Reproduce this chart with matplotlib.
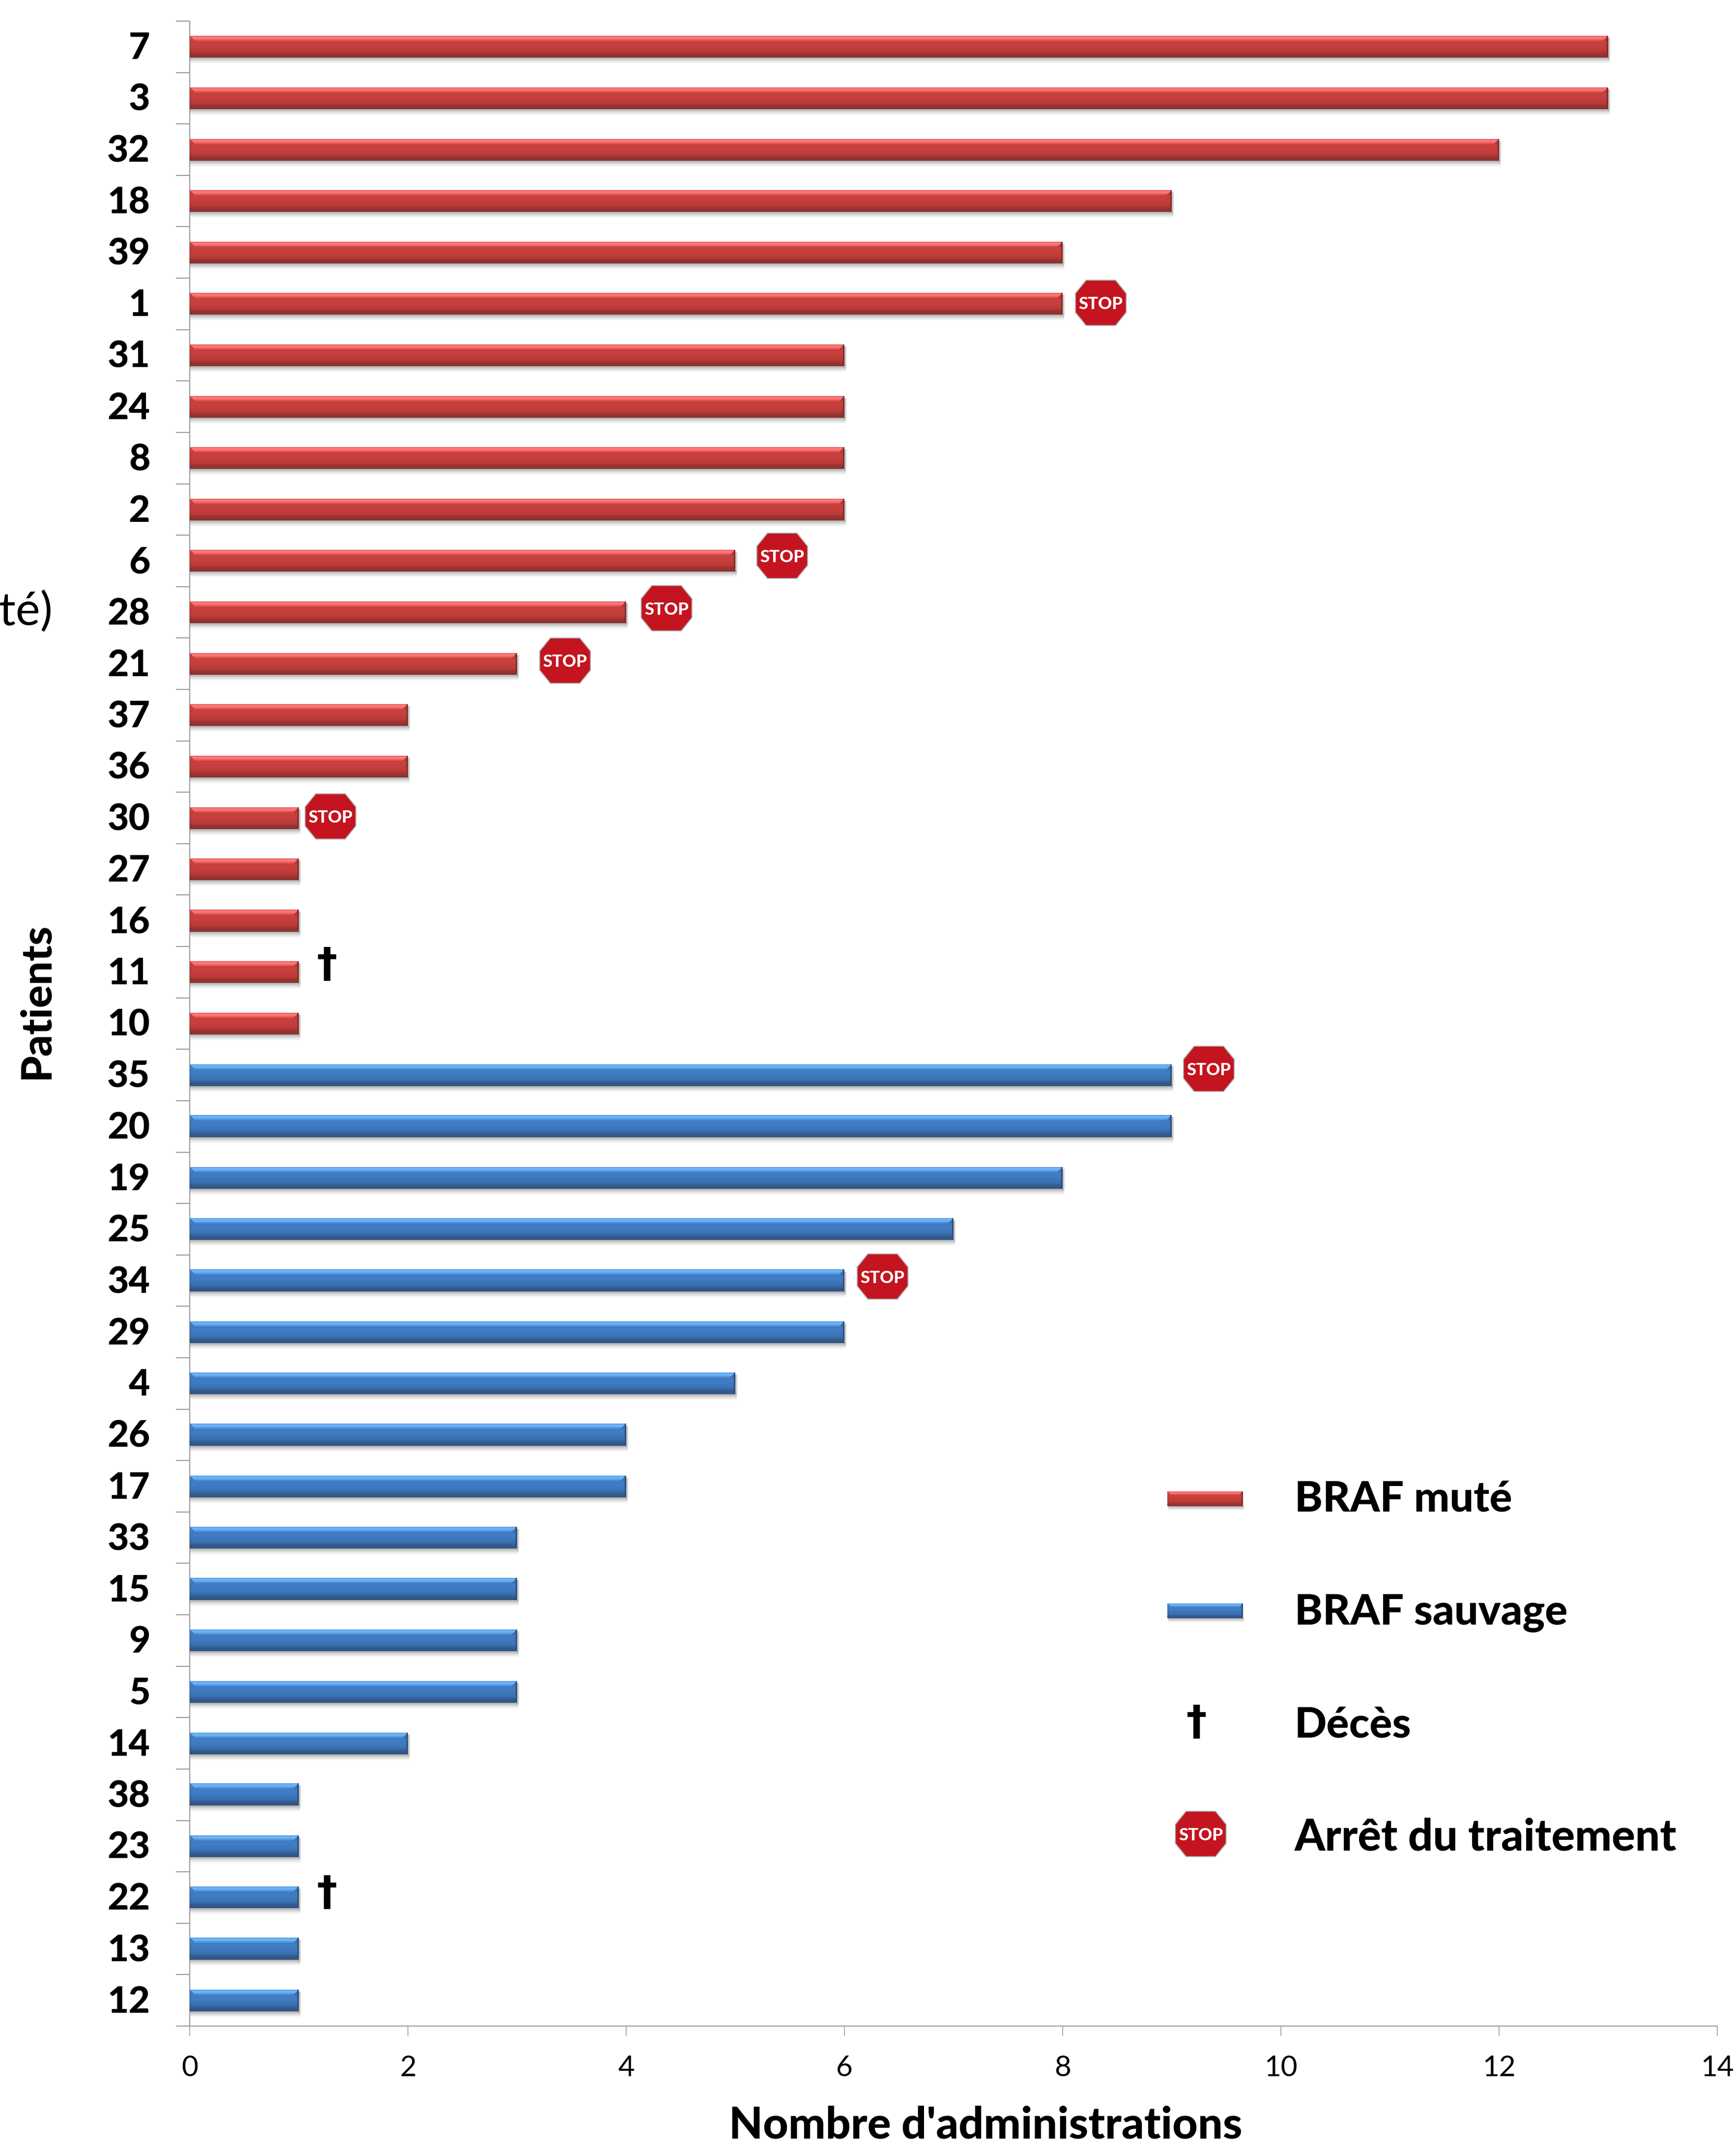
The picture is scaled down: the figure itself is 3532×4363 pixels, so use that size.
import numpy as np
import matplotlib
matplotlib.use("Agg")
import matplotlib.pyplot as plt
from matplotlib.patches import Polygon
from matplotlib.transforms import ScaledTranslation

# patients, top to bottom
patients_mute = ["7", "3", "32", "18", "39", "1", "31", "24", "8", "2", "6", "28", "21",
                 "37", "36", "30", "27", "16", "11", "10"]
values_mute = [13, 13, 12, 9, 8, 8, 6, 6, 6, 6, 5, 4, 3, 2, 2, 1, 1, 1, 1, 1]
patients_sauvage = ["35", "20", "19", "25", "34", "29", "4", "26", "17", "33", "15", "9",
                    "5", "14", "38", "23", "22", "13", "12"]
values_sauvage = [9, 9, 8, 7, 6, 6, 5, 4, 4, 3, 3, 3, 3, 2, 1, 1, 1, 1, 1]

# markers placed next to the bars (x in administrations, y in bar rows)
stop_x = [8.35, 5.43, 4.37, 3.44, 1.29, 9.34, 6.35]
stop_row = [5, 10, 11, 12, 15, 20, 24]
stop_dy = [-0.02, -0.1, -0.08, -0.06, -0.03, -0.12, -0.08]
death_x = [1.26, 1.26]
death_row = [18, 36]
death_dy = [-0.13, -0.08]

x_ticks = [0, 2, 4, 6, 8, 10, 12, 14]

RED = {"edge_top": "#c93a3c", "light": "#ff7677", "mid": "#c8403e", "low": "#b93a38",
       "dark": "#943330", "edge": "#6f2523"}
BLUE = {"edge_top": "#3d7fc8", "light": "#6db3f8", "mid": "#3f7cc4", "low": "#3a70b0",
        "dark": "#33598c", "edge": "#264369"}

W, H = 3532, 4363
LEFT, RIGHT, TOP, BOTTOM = 386, 3494, 43, 4123
GRAY = "#9c9c9c"

plt.rcParams["font.family"] = ["Lato", "DejaVu Sans"]


def rgb(c):
    return np.array(matplotlib.colors.to_rgb(c))


def bevel_image(style, w, h):
    # vertical shading of a bar, with the mitred corners at both ends
    stops = [0.0, 0.04, 0.12, 0.26, 0.45, 0.72, 0.86, 0.96, 1.0]
    names = ["edge_top", "light", "light", "mid", "mid", "low", "dark", "dark", "edge"]
    cols = np.array([rgb(style[n]) for n in names])
    t = (np.arange(h) + 0.5) / h
    img = np.zeros((h, w, 3))
    for k in range(3):
        img[:, :, k] = np.interp(t, stops, cols[:, k])[:, None]
    bev = int(h * 0.27)
    mid = rgb(style["mid"])
    for r in range(bev):
        img[r, :r + 1] = mid
        img[r, w - r - 1:] = mid * 0.92
    for c in range(3):
        img[bev:, c] = img[bev:, c] * 0.93
        img[:, w - c - 1] = rgb(style["dark"]) * (0.95 - 0.05 * c)
    return img


def shadow_image(h, strength=0.34):
    a = np.zeros((h, 1, 4))
    a[:, 0, 3] = strength * (1 - (np.arange(h) + 0.5) / h) ** 1.5
    return a


fig = plt.figure(figsize=(W / 100, H / 100), dpi=100, facecolor="white")
ax = fig.add_axes([LEFT / W, 1 - BOTTOM / H, (RIGHT - LEFT) / W, (BOTTOM - TOP) / H])

patients = patients_mute + patients_sauvage
values = values_mute + values_sauvage
styles = [RED] * len(values_mute) + [BLUE] * len(values_sauvage)
rows = np.arange(len(patients))

px_x = (RIGHT - LEFT) / 14
px_y = (BOTTOM - TOP) / len(patients)
bar_h = 44 / px_y

bars = ax.barh(rows, values, height=bar_h, color=[s["mid"] for s in styles], zorder=3)
for rect, style in zip(bars, styles):
    x1 = rect.get_width()
    y0 = rect.get_y()
    w_px = int(round(x1 * px_x))
    ax.imshow(bevel_image(style, w_px, 44), extent=(0, x1, y0 + bar_h, y0), aspect="auto",
              interpolation="bilinear", zorder=4)
    # soft shadow under the bar
    ax.imshow(shadow_image(14), extent=(1 / px_x, x1 + 3 / px_x, y0 + bar_h + 14 / px_y, y0 + bar_h),
              aspect="auto", interpolation="bilinear", zorder=2)
    ax.imshow(np.dstack([np.zeros((1, 6, 3)), 0.3 * np.linspace(1, 0, 6)[None, :]]),
              extent=(x1, x1 + 6 / px_x, y0 + bar_h, y0 + 4 / px_y),
              aspect="auto", interpolation="bilinear", zorder=2)

ax.set_xlim(0, 14)
ax.set_ylim(len(patients) - 0.5, -0.5)

ax.spines["top"].set_visible(False)
ax.spines["right"].set_visible(False)
ax.spines["left"].set_color(GRAY)
ax.spines["bottom"].set_color(GRAY)
ax.spines["left"].set_linewidth(1.6)
ax.spines["bottom"].set_linewidth(1.6)

ax.set_xticks(x_ticks)
ax.set_xticklabels([str(v) for v in x_ticks], fontsize=42)
ax.tick_params(axis="x", length=14.5, width=1.2, color=GRAY, pad=28)
ax.set_yticks(np.arange(len(patients) + 1) - 0.5)
ax.set_yticklabels([])
ax.tick_params(axis="y", which="major", length=20, width=1.6, color=GRAY)
ax.set_yticks(rows, minor=True)
ax.set_yticklabels(patients, minor=True, fontsize=54, fontweight=900)
ax.tick_params(axis="y", which="minor", length=0, pad=58)
nudge = ScaledTranslation(0, 3 / 100, fig.dpi_scale_trans)
for lab in ax.get_yticklabels(minor=True):
    lab.set_transform(lab.get_transform() + nudge)


def draw_stop(target, cx, cy, sx, sy, fs):
    # octagon of 103 x 92 px around the centre
    ox = np.array([-0.5, -0.29, 0.29, 0.5, 0.5, 0.29, -0.29, -0.5]) * sx
    oy = np.array([-0.21, -0.5, -0.5, -0.21, 0.21, 0.5, 0.5, 0.21]) * sy
    target.add_patch(Polygon(np.c_[cx + ox, cy + oy], closed=True, facecolor="#c4141f",
                             edgecolor="#a8a8a8", linewidth=1.4, zorder=6))
    target.text(cx, cy, "STOP", color="white", fontsize=fs, fontweight=900,
                ha="center", va="center_baseline", zorder=7)


for x, r, d in zip(stop_x, stop_row, stop_dy):
    draw_stop(ax, x, r + d, 103 / px_x, 92 / px_y, 25)
for x, r, d in zip(death_x, death_row, death_dy):
    ax.text(x, r + d, "†", fontsize=60, fontweight="bold", ha="center", va="center",
            family=["DejaVu Sans"], zorder=6)

# everything outside the data area, in pixels of the picture
over = fig.add_axes([0, 0, 1, 1], facecolor="none")
over.set_xlim(0, W)
over.set_ylim(H, 0)
over.axis("off")

over.text(2005, 4352, "Nombre d'administrations", fontsize=64.5, fontweight=900,
          ha="center", va="baseline")
over.text(75, 2037, "Patients", fontsize=62, fontweight=900, rotation=90,
          ha="center", va="center")
over.text(-2, 1245, "té)", fontsize=68, ha="left", va="center")

for style, top in zip([RED, BLUE], [3035, 3263]):
    over.imshow(shadow_image(10), extent=(2377, 2531, top + 40, top + 30), aspect="auto", zorder=2)
    over.imshow(bevel_image(style, 154, 30), extent=(2375, 2529, top + 30, top), aspect="auto",
                interpolation="bilinear", zorder=3)
over.set_xlim(0, W)
over.set_ylim(H, 0)

legend_labels = ["BRAF muté", "BRAF sauvage", "Décès", "Arrêt du traitement"]
legend_base = [3075, 3306, 3535, 3765]
legend_size = [62, 62, 62, 64]
for lab, y, fs in zip(legend_labels, legend_base, legend_size):
    over.text(2634, y, lab, fontsize=fs, fontweight=900, ha="left", va="baseline")
over.text(2435, 3507, "†", fontsize=60, fontweight="bold", ha="center", va="center",
          family=["DejaVu Sans"])
draw_stop(over, 2443, 3732, 103, 92, 25)

fig.savefig("out.png", dpi=100, facecolor="white")
